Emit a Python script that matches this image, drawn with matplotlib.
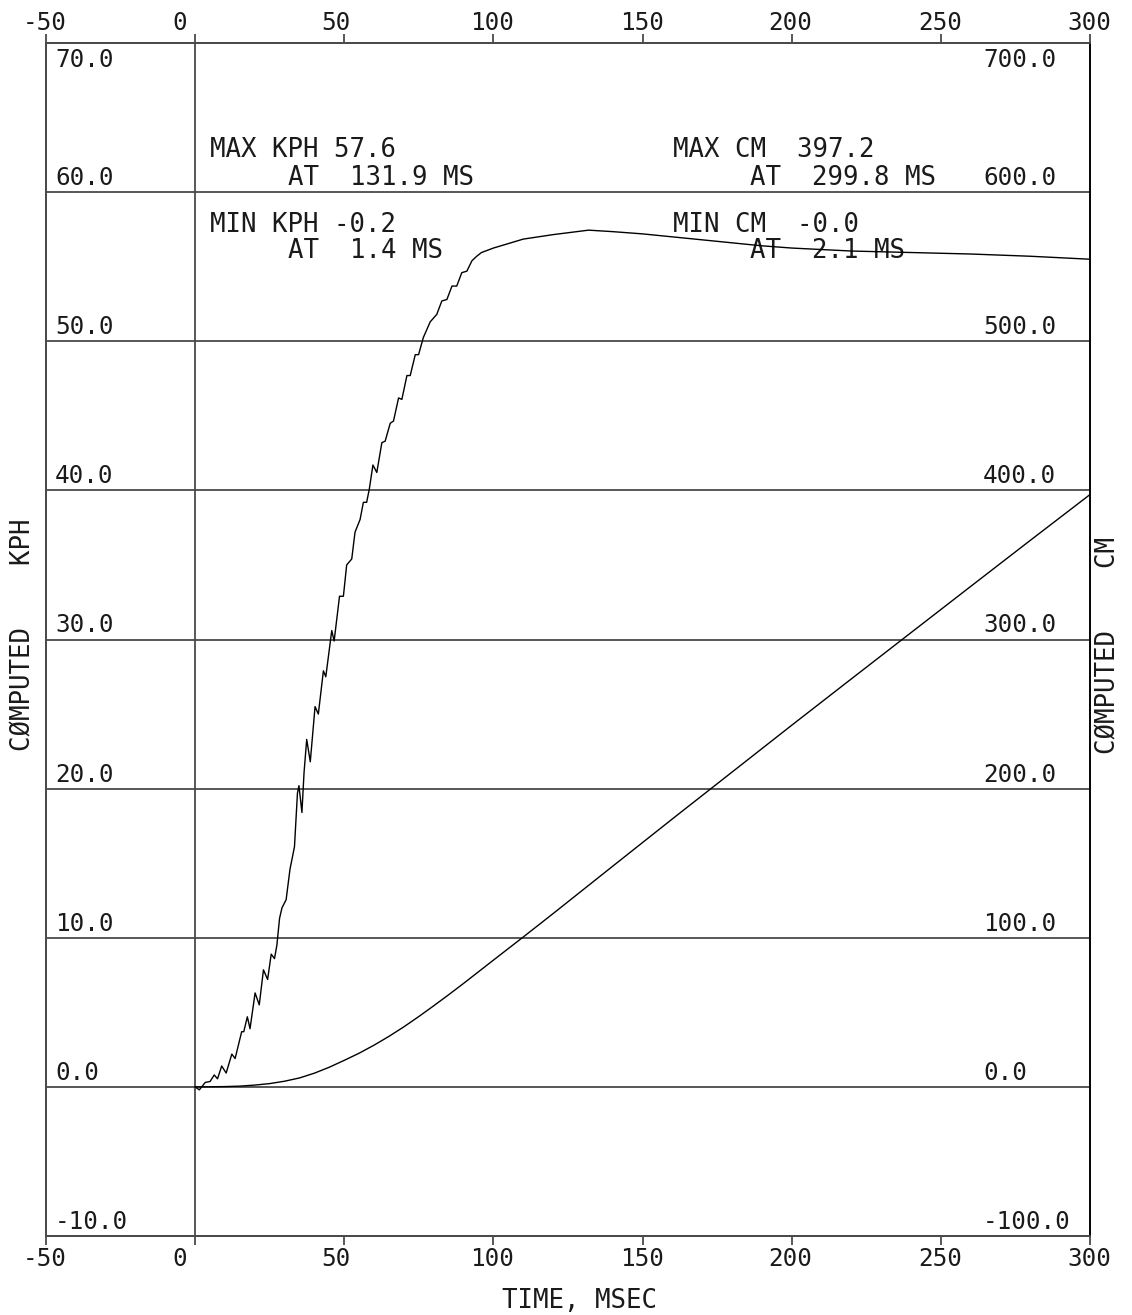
import matplotlib
matplotlib.use("Agg")
import matplotlib.pyplot as plt

# ---------------- data ----------------
x_ticks = [-50, 0, 50, 100, 150, 200, 250, 300]
x_tick_labels = ["-50", "0", "50", "100", "150", "200", "250", "300"]
kph_ticks = [-10, 0, 10, 20, 30, 40, 50, 60, 70]
kph_tick_labels = ["-10.0", "0.0", "10.0", "20.0", "30.0", "40.0", "50.0", "60.0", "70.0"]
cm_ticks = [-100, 0, 100, 200, 300, 400, 500, 600, 700]
cm_tick_labels = ["-100.0", "0.0", "100.0", "200.0", "300.0", "400.0", "500.0", "600.0", "700.0"]

kph_time = [0.0, 1.4, 3.4, 5.0, 6.4, 7.5, 8.9, 10.4, 12.3, 13.4, 15.6, 16.3, 17.5, 18.4,
            20.1, 21.5, 22.9, 24.3, 25.5, 26.6, 27.4, 28.3, 29.1, 30.5, 31.8, 33.3, 34.3,
            34.8, 35.8, 36.5, 37.4, 38.6, 40.2, 41.3, 43.0, 43.8, 45.8, 46.6, 48.4, 49.7,
            50.8, 52.5, 53.6, 55.3, 56.4, 57.5, 58.4, 59.6, 60.9, 62.6, 63.7, 65.4, 66.5,
            68.2, 69.3, 71.0, 72.1, 73.8, 74.9, 76.5, 78.8, 81.0, 82.7, 84.4, 86.1, 87.7,
            89.4, 91.1, 92.8, 94.4, 96.0, 98.0, 100.0, 105.0, 110.0, 120.0, 131.9, 140.0,
            150.0, 160.0, 170.0, 180.0, 190.0, 200.0, 220.0, 240.0, 260.0, 280.0, 300.0]
kph_value = [0.0, -0.2, 0.3, 0.36, 0.8, 0.54, 1.4, 0.93, 2.2, 1.9, 3.7, 3.7, 4.7, 3.9,
             6.3, 5.5, 7.85, 7.2, 8.9, 8.6, 9.5, 11.3, 12.0, 12.55, 14.6, 16.1, 19.7,
             20.2, 18.4, 21.05, 23.3, 21.8, 25.5, 25.0, 27.9, 27.5, 30.6, 29.9, 32.9, 32.9,
             35.0, 35.4, 37.2, 38.05, 39.2, 39.2, 40.1, 41.7, 41.2, 43.2, 43.3, 44.5, 44.65,
             46.2, 46.1, 47.7, 47.7, 49.1, 49.1, 50.25, 51.3, 51.8, 52.7, 52.8, 53.7, 53.7,
             54.6, 54.7, 55.4, 55.7, 55.95, 56.1, 56.25, 56.55, 56.85, 57.15, 57.45, 57.35,
             57.2, 57.0, 56.8, 56.6, 56.4, 56.25, 56.05, 55.95, 55.85, 55.7, 55.5]

cm_time = [0, 5, 10, 15, 20, 25, 30, 35, 40, 45, 50, 55, 60, 65, 70, 75, 80, 85, 90, 95,
           100, 110, 120, 140, 160, 180, 200, 220, 240, 260, 280, 300]
cm_value = [0.0, 0.05, 0.2, 0.5, 1.2, 2.2, 3.8, 6.0, 9.2, 13.2, 17.8, 22.6, 28.0, 33.9,
            40.3, 47.2, 54.4, 61.8, 69.4, 77.2, 85.0, 100.5, 116.2, 148.0, 179.7, 211.1,
            242.5, 273.6, 304.6, 335.6, 366.5, 397.2]

kph_notes = ["MAX KPH 57.6", "AT  131.9 MS", "MIN KPH -0.2", "AT  1.4 MS"]
cm_notes = ["MAX CM  397.2", "AT  299.8 MS", "MIN CM  -0.0", "AT  2.1 MS"]

# ---------------- style ----------------
FONT = "DejaVu Sans Mono"
FS = 18.5
TFS = 17.5
TXT = "#1a1a1a"
GC = "#4a4a4a"
GLW = 1.3
PT = 0.72  # points per pixel at 100 dpi

W_PX, H_PX = 1132, 1315
fig = plt.figure(figsize=(W_PX / 100, H_PX / 100), dpi=100)
ax_l, ax_r, ax_t, ax_b = 46, 1090, 43, 1236
ax = fig.add_axes([ax_l / W_PX, 1 - ax_b / H_PX, (ax_r - ax_l) / W_PX, (ax_b - ax_t) / H_PX])
ax.set_xlim(-50, 300)
ax.set_ylim(-10, 70)
ax2 = ax.twinx()
ax2.set_ylim(-100, 700)

for a in (ax, ax2):
    for s in a.spines.values():
        s.set_color(GC)
        s.set_linewidth(GLW)
ax2.spines["right"].set_color("black")

ax.set_xticks(x_ticks)
ax.tick_params(axis="x", direction="out", length=9 * PT, width=GLW, color=GC,
               top=True, bottom=True, labelbottom=False, labeltop=False)
ax.set_yticks(kph_ticks)
ax.tick_params(axis="y", length=0, labelleft=False)
ax2.set_yticks(cm_ticks)
ax2.tick_params(axis="y", length=0, labelright=False)
ax.yaxis.grid(True, color=GC, linewidth=GLW)
ax.axvline(0, color=GC, linewidth=GLW)

# curves
ax.plot(kph_time, kph_value, color="black", linewidth=1.0, zorder=5)
ax2.plot(cm_time, cm_value, color="black", linewidth=1.0, zorder=5)

tk = dict(family=FONT, fontsize=TFS, color=TXT, ha="left", va="baseline")
# x tick labels (top and bottom)
for t, lab in zip(x_ticks, x_tick_labels):
    ax.annotate(lab, xy=(t, 1), xycoords=("data", "axes fraction"),
                xytext=(-23 * PT, 13 * PT), textcoords="offset points", **tk)
    ax.annotate(lab, xy=(t, 0), xycoords=("data", "axes fraction"),
                xytext=(-23 * PT, -30 * PT), textcoords="offset points", **tk)

# y tick labels inside the frame
for v, lab in zip(kph_ticks, kph_tick_labels):
    dy = -24 if v == kph_ticks[-1] else 7
    ax.annotate(lab, xy=(0, v), xycoords=("axes fraction", "data"),
                xytext=(9 * PT, dy * PT), textcoords="offset points", **tk)
for v, lab in zip(cm_ticks, cm_tick_labels):
    dy = -24 if v == cm_ticks[-1] else 7
    ax2.annotate(lab, xy=(1, v), xycoords=("axes fraction", "data"),
                 xytext=(-107 * PT, dy * PT), textcoords="offset points", **tk)

# statistics notes
def axfrac(px, py):
    return (px - ax_l) / (ax_r - ax_l), (ax_b - py) / (ax_b - ax_t)

note_pos_l = [(210, 157), (288, 185), (210, 232), (288, 258)]
note_pos_r = [(673, 157), (750, 185), (673, 232), (750, 258)]
for s, (px, py) in zip(kph_notes, note_pos_l):
    x, y = axfrac(px, py)
    ax.text(x, y, s, transform=ax.transAxes, family=FONT, fontsize=FS, color=TXT,
            ha="left", va="baseline", zorder=3)
for s, (px, py) in zip(cm_notes, note_pos_r):
    x, y = axfrac(px, py)
    ax.text(x, y, s, transform=ax.transAxes, family=FONT, fontsize=FS, color=TXT,
            ha="left", va="baseline", zorder=3)

# axis titles
fig.text(23 / W_PX, 1 - 635 / H_PX, "CØMPUTED    KPH", rotation=90, family=FONT,
         fontsize=FS, color=TXT, ha="center", va="center")
fig.text(1108 / W_PX, 1 - 645 / H_PX, "CØMPUTED    CM", rotation=90, family=FONT,
         fontsize=FS, color=TXT, ha="center", va="center")
fig.text(580 / W_PX, 1 - 1308 / H_PX, "TIME, MSEC", family=FONT, fontsize=FS,
         color=TXT, ha="center", va="baseline")

fig.savefig("out.png", dpi=100)
